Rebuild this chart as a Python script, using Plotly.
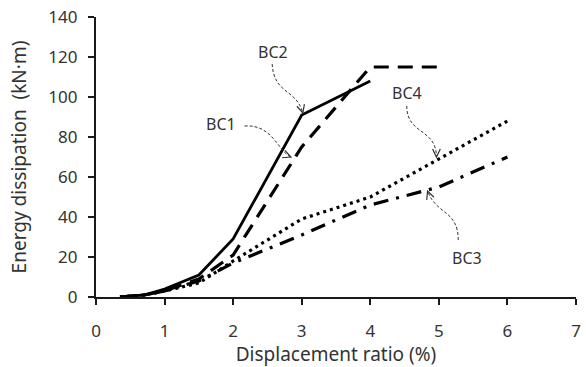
import plotly.graph_objects as go
import math

# ---- data ----
disp_bc1 = [0.35, 0.7, 1.0, 1.5, 2.0, 3.0, 4.0]
energy_bc1 = [0, 1, 4, 11, 29, 91, 108]
disp_bc2 = [0.35, 0.7, 1.0, 1.5, 2.0, 3.0, 4.0, 5.0]
energy_bc2 = [0, 1, 3, 9, 21, 75, 115, 115]
disp_bc3 = [0.35, 0.7, 1.0, 1.5, 2.0, 3.0, 4.0, 5.0, 6.0]
energy_bc3 = [0, 1, 3, 8, 17, 31, 46, 55, 70]
disp_bc4 = [0.35, 0.7, 1.0, 1.5, 2.0, 3.0, 4.0, 5.0, 6.0]
energy_bc4 = [0, 1, 3, 7, 18, 39, 50, 69, 88]

x_ticks = [0, 1, 2, 3, 4, 5, 6, 7]
y_ticks = [0, 20, 40, 60, 80, 100, 120, 140]

FONT = "Noto Sans"
W, H = 586, 367
ML, MR, MT, MB = 96, 5, 17, 70
XR, YR = (0, 7), (0, 140)

def dx(px):
    return XR[0] + (px - ML) / (W - ML - MR) * (XR[1] - XR[0])

def dy(py):
    return YR[0] + (H - MB - py) / (H - MT - MB) * (YR[1] - YR[0])

fig = go.Figure()
series = [
    ("BC1", disp_bc1, energy_bc1, dict(color="black", width=2.8, dash="solid")),
    ("BC2", disp_bc2, energy_bc2, dict(color="black", width=3.2, dash="15px,9px")),
    ("BC3", disp_bc3, energy_bc3, dict(color="black", width=3.2, dash="15px,8px,3px,8px")),
    ("BC4", disp_bc4, energy_bc4, dict(color="black", width=3.2, dash="3px,4px")),
]
for name, xs, ys, ln in series:
    fig.add_trace(go.Scatter(x=xs, y=ys, mode="lines", name=name, line=ln,
                             showlegend=False))

# label annotations: (text, text center px, curve control points px)
labels = [
    ("BC1", (222, 124), [(246, 126), (275, 124), (280, 152), (293, 157)]),
    ("BC2", (275, 52), [(274, 64), (276, 95), (298, 88), (305, 113)]),
    ("BC4", (410, 93), [(410, 106), (410, 135), (440, 128), (440, 157)]),
    ("BC3", (471, 258), [(462, 240), (462, 210), (440, 215), (431, 191)]),
]
shapes = []
for text, (tx, ty), pts in labels:
    fig.add_annotation(x=dx(tx), y=dy(ty), text=text, showarrow=False,
                       font=dict(family=FONT, size=16, color="#333333"))
    p0, p1, p2, p3 = pts
    path = "M {} {} C {} {}, {} {}, {} {}".format(
        dx(p0[0]), dy(p0[1]), dx(p1[0]), dy(p1[1]),
        dx(p2[0]), dy(p2[1]), dx(p3[0]), dy(p3[1]))
    shapes.append(dict(type="path", path=path, xref="x", yref="y",
                       line=dict(color="#333333", width=1, dash="3px,2px")))
    ang = math.atan2(p3[1] - p2[1], p3[0] - p2[0])
    L = 9
    a1 = ang + math.pi - 0.45
    a2 = ang + math.pi + 0.45
    v1 = (p3[0] + L * math.cos(a1), p3[1] + L * math.sin(a1))
    v2 = (p3[0] + L * math.cos(a2), p3[1] + L * math.sin(a2))
    vpath = "M {} {} L {} {} L {} {}".format(
        dx(v1[0]), dy(v1[1]), dx(p3[0]), dy(p3[1]), dx(v2[0]), dy(v2[1]))
    shapes.append(dict(type="path", path=vpath, xref="x", yref="y",
                       line=dict(color="#333333", width=1.2)))

axis_common = dict(showline=True, linecolor="#1a1a1a", linewidth=2.2,
                   ticks="outside", ticklen=6, tickwidth=2.2, tickcolor="#1a1a1a",
                   showgrid=False, zeroline=False, ticklabeloverflow="allow",
                   tickfont=dict(family=FONT, size=17, color="#333333"))

fig.update_layout(
    width=W, height=H,
    margin=dict(l=ML, r=MR, t=MT, b=MB),
    paper_bgcolor="white", plot_bgcolor="white",
    shapes=shapes,
    xaxis=dict(range=list(XR), tickvals=x_ticks, ticklabelstandoff=11, **axis_common,
               title=dict(text="Displacement ratio (%)", standoff=6,
                          font=dict(family=FONT, size=19, color="#333333"))),
    yaxis=dict(range=list(YR), tickvals=y_ticks, ticklabelstandoff=7, **axis_common,
               title=dict(text="Energy dissipation  (kN·m)", standoff=17,
                          font=dict(family=FONT, size=19, color="#333333"))),
)
fig.write_html("out.html")
